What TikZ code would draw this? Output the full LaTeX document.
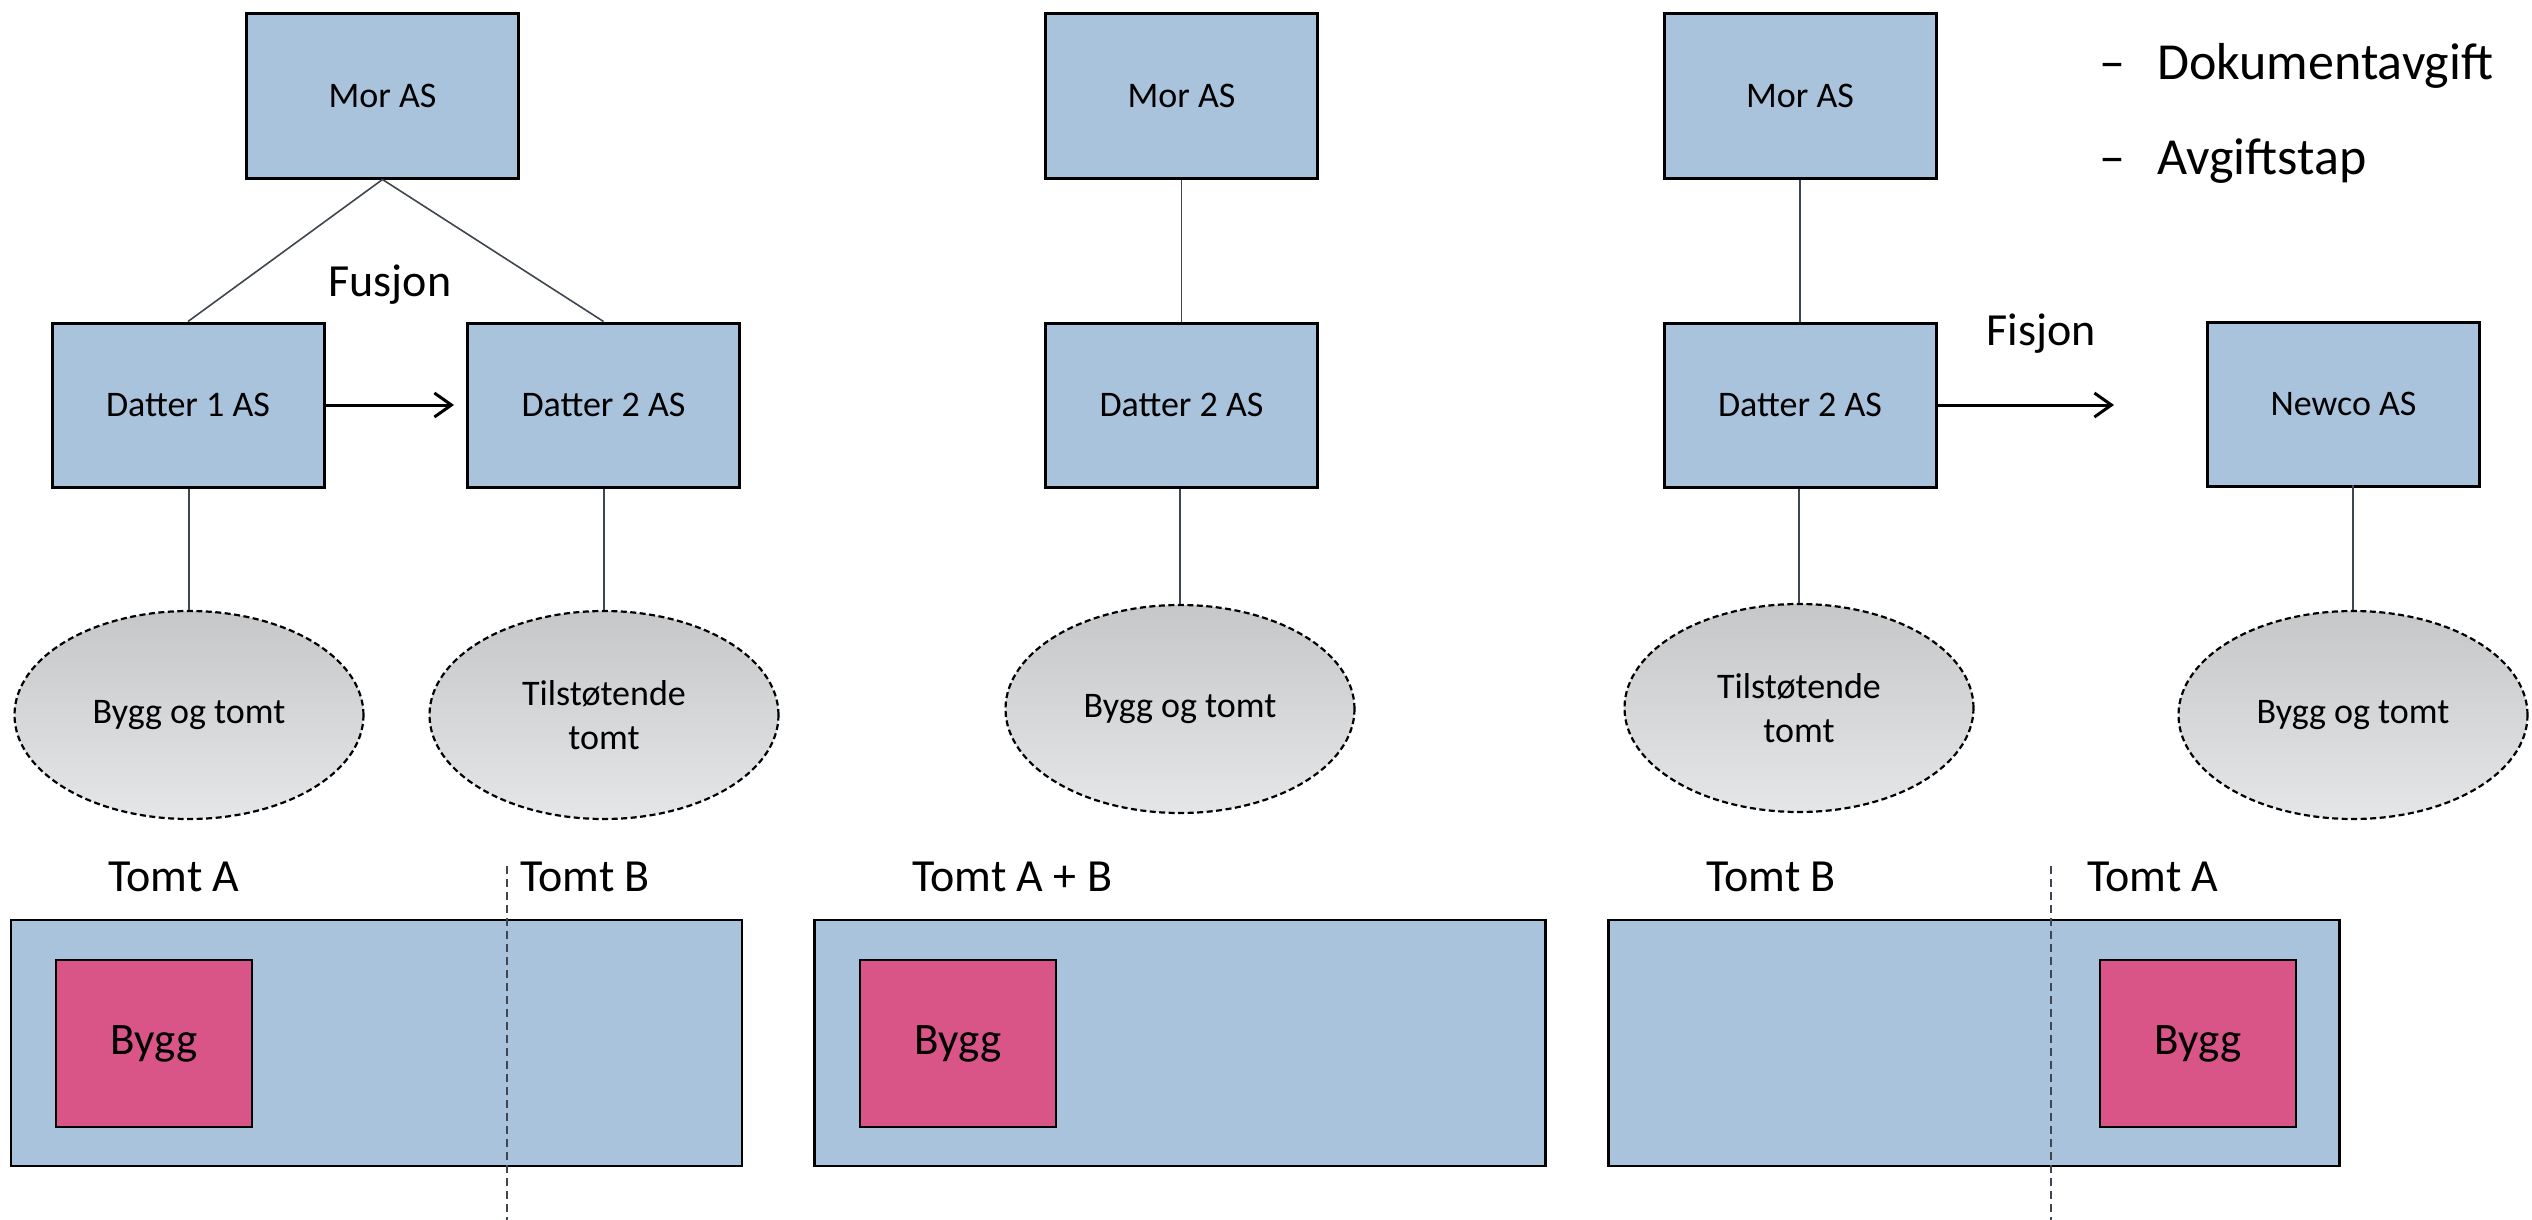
\documentclass[tikz,border=0pt]{standalone}
\usepackage{fontspec}
\setmainfont{Carlito}
\usetikzlibrary{shapes.geometric,arrows.meta}
\definecolor{boxblue}{HTML}{A9C3DC}
\definecolor{byggpink}{HTML}{D95587}
\definecolor{ellTop}{HTML}{C6C7C9}
\definecolor{ellBot}{HTML}{E5E6E7}
\definecolor{linegray}{HTML}{3F4650}
\begin{document}
\begin{tikzpicture}[x=1pt,y=-1pt,
  company/.style={draw=black, line width=3pt, fill=boxblue, inner sep=0,
    minimum width=272pt, minimum height=164pt, font=\fontsize{36}{43}\selectfont},
  asset/.style={ellipse, draw=black, line width=2.2pt, dash pattern=on 6pt off 3.5pt,
    top color=ellTop, bottom color=ellBot, minimum width=349pt, minimum height=208pt,
    inner sep=0, align=center, font=\fontsize{36}{44}\selectfont},
  plot/.style={draw=black, line width=2.5pt, fill=boxblue, inner sep=0,
    minimum width=731pt, minimum height=246pt},
  bygg/.style={draw=black, line width=2.5pt, fill=byggpink, inner sep=0,
    minimum width=196pt, minimum height=167pt, font=\fontsize{45}{54}\selectfont},
  link/.style={draw=linegray, line width=1.6pt},
  flow/.style={draw=black, line width=3pt, -{Straight Barb[length=17pt,width=24pt]}},
  divider/.style={draw=linegray, line width=1.6pt, dash pattern=on 8pt off 5pt},
  plotlabel/.style={font=\fontsize{46}{55}\selectfont, anchor=base west, inner sep=0},
  oplabel/.style={font=\fontsize{46}{55}\selectfont, anchor=base, inner sep=0},
  bullet/.style={font=\fontsize{52}{62}\selectfont, anchor=base west, inner sep=0},
]
\fill[white] (0,0) rectangle (2532,1220);
\useasboundingbox (0,0) rectangle (2532,1220);

% ---------- Panel 1: Fusjon ----------
\node[company] (mor1) at (382.5,96) {Mor AS};
\node[company] (d1) at (188,405) {Datter 1 AS};
\node[company] (d2) at (603.5,405) {Datter 2 AS};
\node[asset] (e1) at (189,715) {Bygg og tomt};
\node[asset] (e2) at (604,715) {Tilstøtende\\tomt};
\draw[link] (mor1.south) -- (d1.north);
\draw[link] (mor1.south) -- (d2.north);
\draw[link] (e1.north |- d1.south) -- (e1.north);
\draw[link] (e2.north |- d2.south) -- (e2.north);
\draw[flow] (d1.east) -- ([xshift=-12pt]d2.west);
\node[oplabel] (fusjon) at (390,296) {Fusjon};

\node[plot] (p1) at (376.5,1043) {};
\node[bygg] (b1) at (154,1043.5) {Bygg};
\node[plotlabel] (ta1) at (108,891) {Tomt A};
\node[plotlabel] (tb1) at (520,891) {Tomt B};
\coordinate (dv1a) at (507,866);
\coordinate (dv1b) at (507,1220);
\draw[divider] (dv1a) -- (dv1b);

% ---------- Panel 2: etter fusjon ----------
\node[company] (mor2) at (1181.5,96) {Mor AS};
\node[company] (d2b) at (1181.5,405) {Datter 2 AS};
\node[asset] (e3) at (1180,709) {Bygg og tomt};
\draw[link] (mor2.south) -- (d2b.north);
\draw[link] (e3.north |- d2b.south) -- (e3.north);

\node[plot] (p2) at (1180,1043) {};
\node[bygg] (b2) at (958,1043.5) {Bygg};
\node[plotlabel] (tab) at (912,891) {Tomt A + B};

% ---------- Panel 3: Fisjon ----------
\node[company] (mor3) at (1800,96) {Mor AS};
\node[company] (d3) at (1800,405) {Datter 2 AS};
\node[company] (newco) at (2343.5,404) {Newco AS};
\node[asset] (e4) at (1799,708) {Tilstøtende\\tomt};
\node[asset] (e5) at (2353,715) {Bygg og tomt};
\draw[link] (mor3.south) -- (d3.north);
\draw[link] (e4.north |- d3.south) -- (e4.north);
\draw[link] ([yshift=3pt]e5.north |- newco.south) -- (e5.north);
\coordinate (fisend) at (2114,405);
\draw[flow] (d3.east) -- (fisend);
\node[oplabel] (fisjon) at (2041,345) {Fisjon};

\node[plot] (p3) at (1974,1043) {};
\node[bygg] (b3) at (2198,1043.5) {Bygg};
\node[plotlabel] (tb3) at (1706,891) {Tomt B};
\node[plotlabel] (ta3) at (2087,891) {Tomt A};
\coordinate (dv3a) at (2051,866);
\coordinate (dv3b) at (2051,1220);
\draw[divider] (dv3a) -- (dv3b);

% ---------- Bullets ----------
\node[bullet] (bl1) at (2099,80) {\makebox[58pt][l]{–}Dokumentavgift};
\node[bullet] (bl2) at (2099,175) {\makebox[58pt][l]{–}Avgiftstap};
\end{tikzpicture}
\end{document}
